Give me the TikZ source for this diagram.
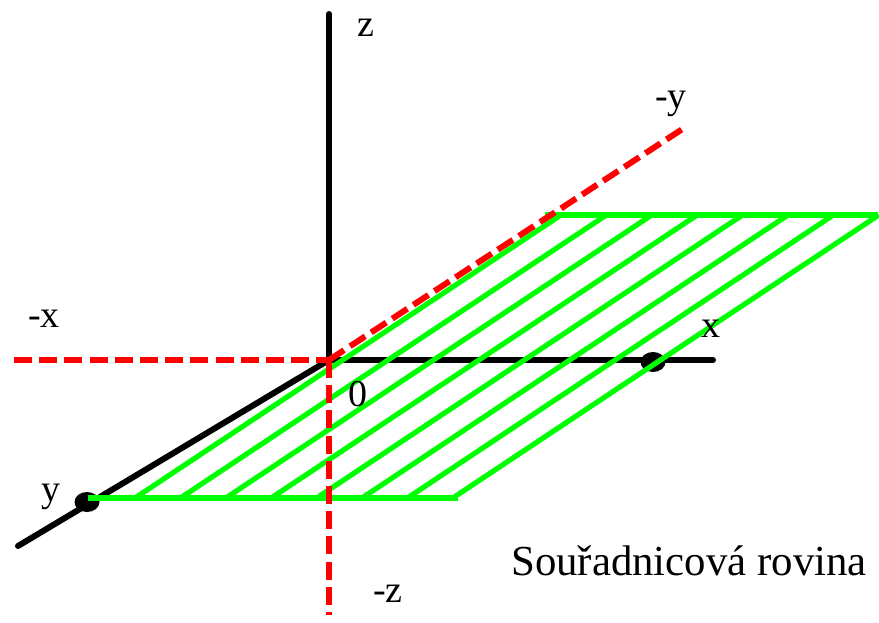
\documentclass[tikz,border=0pt]{standalone}
\usepackage{fontspec}
\setmainfont{Liberation Serif}
\usetikzlibrary{shapes.geometric}
\definecolor{plgreen}{HTML}{00FF00}
\definecolor{plred}{HTML}{FF0000}
\tikzset{
  axis/.style={draw=black,line width=3pt,line cap=round},
  negaxis/.style={draw=plred,line width=3pt,dash pattern=on 9pt off 3.6pt},
  plane/.style={draw=plgreen,line width=2.6pt},
  dot/.style={ellipse,fill=black,minimum width=12.5pt,minimum height=10pt,inner sep=0pt},
  lbl/.style={font=\fontsize{19}{22}\selectfont,anchor=base,inner sep=0pt},
  caption/.style={font=\fontsize{21.4}{26}\selectfont,anchor=base,inner sep=0pt},
}
\begin{document}
\begin{tikzpicture}[x=0.5pt,y=-0.5pt]
  \useasboundingbox (0,0) rectangle (879,622);
  \coordinate (O) at (329,360);
  \coordinate (ztop) at (329,14);
  \coordinate (zbot) at (329,615);
  \coordinate (xneg) at (14,360);
  \coordinate (xpos) at (713,360);
  \coordinate (yend) at (18,546);
  \coordinate (yneg) at (684,128);
  \coordinate (pbl) at (88,498);
  \coordinate (pbr) at (458,498);
  \coordinate (ptl) at (545,215);
  \coordinate (ptr) at (878,215);
  \draw[axis] (O) -- (ztop);
  \draw[axis] (O) -- (xpos);
  \draw[axis] (O) -- (yend);
  \node[dot] (ydot) at (87,502) {};
  \node[dot] (xdot) at (653,362) {};
  \draw[plane] (pbl) -- (pbr) (ptl) -- (ptr);
  \foreach \i in {0,...,7}
    \draw[plane] (135+45.4*\i,498) -- ++(426,-283);
  \draw[negaxis] (xneg) -- (O);
  \draw[negaxis] (O) -- (zbot);
  \draw[negaxis] (O) -- (yneg);
  \node[lbl] (lz) at (366,36) {z};
  \node[lbl] (lyneg) at (671,108) {-y};
  \node[lbl] (lxneg) at (44,327) {-x};
  \node[lbl] (lx) at (711,337) {x};
  \node[lbl] (lo) at (358,406) {0};
  \node[lbl] (ly) at (51,501) {y};
  \node[lbl] (lzneg) at (388,602) {-z};
  \node[caption] (title) at (689,575) {Souřadnicová rovina};
\end{tikzpicture}
\end{document}
